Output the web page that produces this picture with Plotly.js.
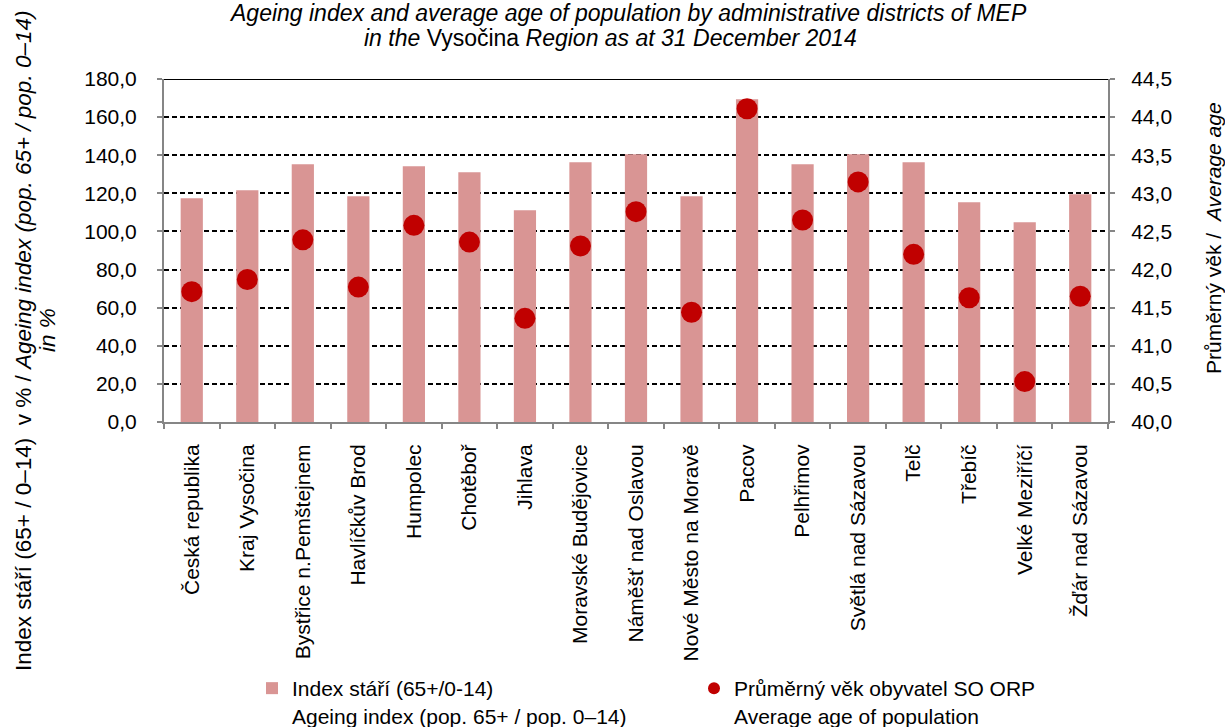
<!DOCTYPE html>
<html>
<head>
<meta charset="utf-8">
<script src="https://cdn.plot.ly/plotly-3.0.1.min.js"></script>
<style>html,body{margin:0;padding:0;background:#fff;}#chart{width:1225px;height:727px;}</style>
</head>
<body>
<div id="chart"></div>
<script>
const categories = ["Česká republika", "Kraj Vysočina", "Bystřice n.Pemštejnem", "Havlíčkův Brod", "Humpolec", "Chotěboř", "Jihlava", "Moravské Budějovice", "Náměšť nad Oslavou", "Nové Město na Moravě", "Pacov", "Pelhřimov", "Světlá nad Sázavou", "Telč", "Třebíč", "Velké Meziříčí", "Žďár nad Sázavou"];
const ageingIndex = [117.4, 121.6, 135.3, 118.5, 134.2, 131.1, 111.1, 136.3, 140.5, 118.5, 169.4, 135.3, 140.5, 136.3, 115.3, 104.8, 119.5];
const averageAge = [41.71, 41.87, 42.39, 41.77, 42.58, 42.36, 41.36, 42.31, 42.76, 41.44, 44.11, 42.65, 43.15, 42.20, 41.63, 40.53, 41.65];
const seriesNames = ["Index stáří (65+/0-14)<br>Ageing index (pop. 65+ / pop. 0–14)", "Průměrný věk obyvatel SO ORP<br>Average age of population"];
const titleLines = ["<i>Ageing index and average age of population by administrative districts of MEP</i>", "<i>in the </i>Vysočina<i> Region as at 31 December 2014</i>"];
const leftTitleLines = ["Index stáří (65+ / 0–14)  v % / <i>Ageing index (pop. 65+ / pop. 0–14)</i>", "<i>in %</i>"];
const rightTitle = "Průměrný věk /  <i>Average age</i>";

const FONT = "Liberation Sans, Arial, sans-serif";
const AXIS = "#868686";
const W = 1225, H = 727;
const M = {l: 164, r: 117, t: 79, b: 305};
const PW = W - M.l - M.r, PH = H - M.t - M.b;
const px = x => (x - M.l) / PW;        // pixel -> paper x
const py = y => (H - M.b - y) / PH;    // pixel -> paper y

const traces = [
  {
    type: "bar", x: categories, y: ageingIndex, name: seriesNames[0],
    marker: {color: "#d99594"}, yaxis: "y", legend: "legend"
  },
  {
    type: "scatter", mode: "markers", x: categories, y: averageAge, name: seriesNames[1],
    marker: {color: "#c00000", size: 21, symbol: "circle"}, yaxis: "y2", legend: "legend2"
  }
];

const tickFont = {family: FONT, size: 21, color: "#000"};
const legendCommon = {
  orientation: "v", xanchor: "left", yanchor: "top", valign: "top",
  itemsizing: "constant", bgcolor: "rgba(0,0,0,0)", borderwidth: 0,
  font: {family: FONT, size: 21, color: "#000"}
};

const layout = {
  width: W, height: H,
  margin: Object.assign({autoexpand: false}, M),
  paper_bgcolor: "#fff", plot_bgcolor: "#fff",
  separators: ", ",
  font: {family: FONT, size: 21, color: "#000"},
  bargap: 0.6,
  showlegend: true,
  xaxis: {
    type: "category", range: [-0.5, categories.length - 0.5], autorange: false,
    tickangle: -90, tickson: "boundaries",
    ticks: "outside", ticklen: 5, tickcolor: AXIS, tickwidth: 2,
    showline: true, linecolor: AXIS, linewidth: 2,
    showgrid: false, ticklabelstandoff: 12, automargin: false,
    tickfont: tickFont
  },
  yaxis: {
    range: [0, 180], dtick: 20, tick0: 0, tickformat: ".1f",
    ticks: "outside", ticklen: 5, tickcolor: AXIS, tickwidth: 2,
    showline: true, linecolor: AXIS, linewidth: 2,
    showgrid: true, gridcolor: "#000", gridwidth: 1.5, griddash: "5px,3px",
    zeroline: false, ticklabelstandoff: 16, automargin: false,
    tickfont: tickFont
  },
  yaxis2: {
    range: [40, 44.5], dtick: 0.5, tick0: 40, tickformat: ".1f",
    overlaying: "y", side: "right",
    ticks: "outside", ticklen: 5, tickcolor: AXIS, tickwidth: 2,
    showline: true, linecolor: AXIS, linewidth: 2,
    showgrid: false, zeroline: false, ticklabelstandoff: 12, automargin: false,
    tickfont: tickFont
  },
  legend: Object.assign({x: px(252), y: py(668)}, legendCommon),
  legend2: Object.assign({x: px(694), y: py(668)}, legendCommon),
  shapes: [
    {type: "line", xref: "paper", yref: "y", x0: 0, x1: 1, y0: 180, y1: 180, line: {color: "#000", width: 2}}
  ],
  annotations: [
    {text: titleLines[0], xref: "paper", yref: "paper", x: px(628), y: py(13), xanchor: "center", yanchor: "middle", showarrow: false,
     font: {family: FONT, size: 23, color: "#000"}},
    {text: titleLines[1], xref: "paper", yref: "paper", x: px(610), y: py(38), xanchor: "center", yanchor: "middle", showarrow: false,
     font: {family: FONT, size: 23, color: "#000"}},
    {text: leftTitleLines[0], textangle: -90, xref: "paper", yref: "paper", x: px(23), y: py(341),
     xanchor: "center", yanchor: "middle", showarrow: false, font: {family: FONT, size: 22.5, color: "#000"}},
    {text: leftTitleLines[1], textangle: -90, xref: "paper", yref: "paper", x: px(47), y: py(330),
     xanchor: "center", yanchor: "middle", showarrow: false, font: {family: FONT, size: 22.5, color: "#000"}},
    {text: rightTitle, textangle: -90, xref: "paper", yref: "paper", x: px(1213), y: py(238),
     xanchor: "center", yanchor: "middle", showarrow: false, font: {family: FONT, size: 21, color: "#000"}}
  ]
};

Plotly.newPlot("chart", traces, layout, {displayModeBar: false, responsive: false});
</script>
</body>
</html>
